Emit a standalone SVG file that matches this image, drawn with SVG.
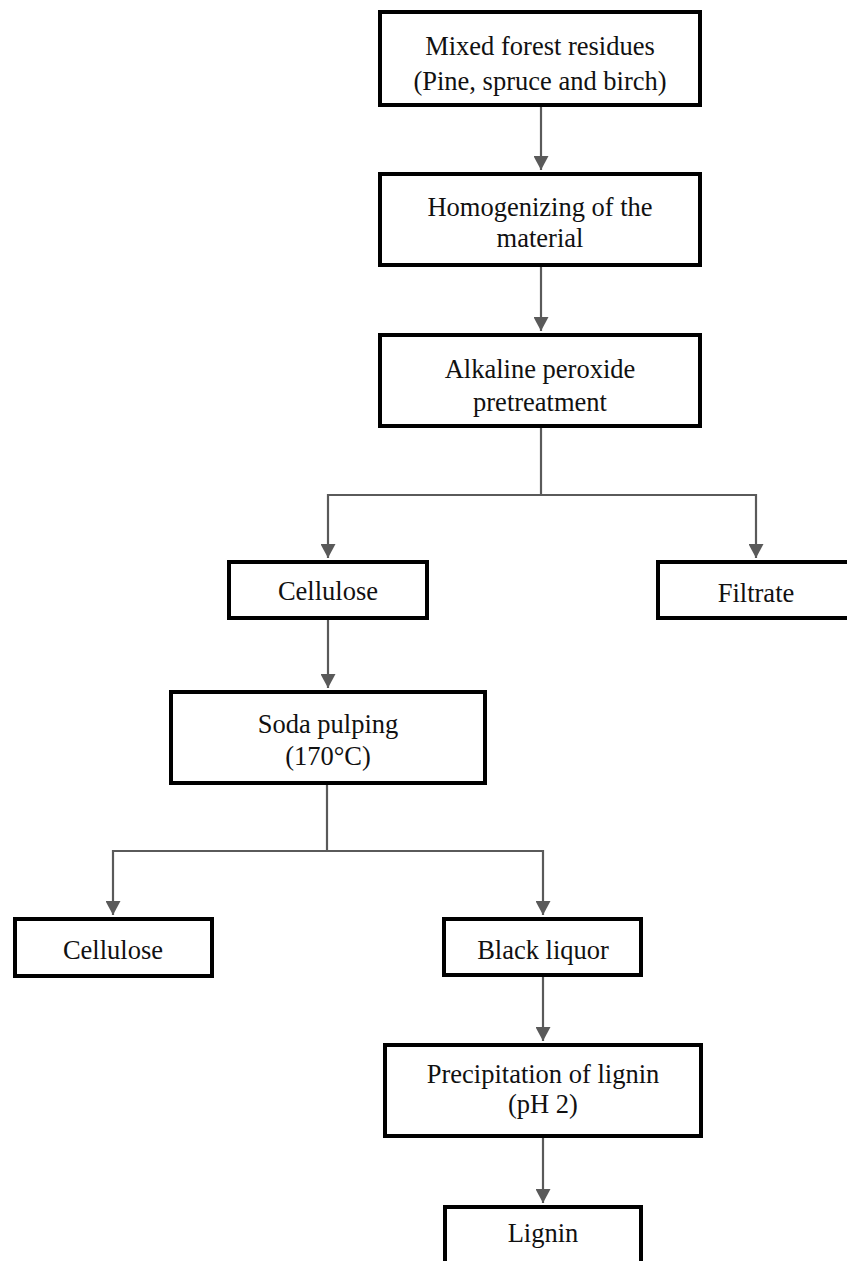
<svg xmlns="http://www.w3.org/2000/svg" width="847" height="1261" viewBox="0 0 847 1261">
<style>
.box{fill:#fff;stroke:#000;stroke-width:4}
.lbl{font-family:"Liberation Serif","Times New Roman",serif;font-size:26.5px;fill:#111;text-anchor:middle}
.con{fill:none;stroke:#5a5a5a;stroke-width:2.2}
</style>
<defs>
<marker id="arr" markerUnits="userSpaceOnUse" markerWidth="16" markerHeight="15" refX="8" refY="15" orient="auto-start-reverse" viewBox="0 0 16 15">
<path d="M0,0 L16,0 L8,15 Z" fill="#5a5a5a" transform="rotate(-90 8 7.5)"/>
</marker>
<marker id="ah" markerUnits="userSpaceOnUse" markerWidth="16" markerHeight="15" refX="15" refY="8" orient="auto" viewBox="0 0 16 16">
<path d="M0,0 L15,8 L0,16 Z" fill="#5a5a5a"/>
</marker>
</defs>
<rect width="847" height="1261" fill="#fff"/>
<g id="connectors">
<path class="con" d="M541,106 V170" marker-end="url(#ah)"/>
<path class="con" d="M541,266 V331" marker-end="url(#ah)"/>
<path class="con" d="M541,428 V495"/>
<path class="con" d="M328,495 H756"/>
<path class="con" d="M328,494 V558" marker-end="url(#ah)"/>
<path class="con" d="M756,494 V558" marker-end="url(#ah)"/>
<path class="con" d="M328,620 V688" marker-end="url(#ah)"/>
<path class="con" d="M327,785 V851"/>
<path class="con" d="M113,851 H543"/>
<path class="con" d="M113,850 V915" marker-end="url(#ah)"/>
<path class="con" d="M543,850 V915" marker-end="url(#ah)"/>
<path class="con" d="M543,977 V1041" marker-end="url(#ah)"/>
<path class="con" d="M543,1138 V1203" marker-end="url(#ah)"/>
</g>
<g id="n1"><rect class="box" x="380" y="12" width="320" height="93"/>
<text class="lbl" x="540" y="55">Mixed forest residues</text><text class="lbl" x="540" y="90">(Pine, spruce and birch)</text></g>
<g id="n2"><rect class="box" x="380" y="174" width="320" height="91"/>
<text class="lbl" x="540" y="216">Homogenizing of the</text><text class="lbl" x="540" y="247">material</text></g>
<g id="n3"><rect class="box" x="380" y="335" width="320" height="91"/>
<text class="lbl" x="540" y="378">Alkaline peroxide</text><text class="lbl" x="540" y="411">pretreatment</text></g>
<g id="n4"><rect class="box" x="229" y="562" width="198" height="56"/>
<text class="lbl" x="328" y="600">Cellulose</text></g>
<g id="n5"><rect class="box" x="658" y="562" width="200" height="56"/>
<text class="lbl" x="756" y="602">Filtrate</text></g>
<g id="n6"><rect class="box" x="171" y="692" width="314" height="91"/>
<text class="lbl" x="328" y="733">Soda pulping</text><text class="lbl" x="328" y="765">(170°C)</text></g>
<g id="n7"><rect class="box" x="15" y="919" width="197" height="57"/>
<text class="lbl" x="113" y="959">Cellulose</text></g>
<g id="n8"><rect class="box" x="444" y="919" width="197" height="56"/>
<text class="lbl" x="543" y="959">Black liquor</text></g>
<g id="n9"><rect class="box" x="385" y="1045" width="316" height="91"/>
<text class="lbl" x="543" y="1083">Precipitation of lignin</text><text class="lbl" x="543" y="1113">(pH 2)</text></g>
<g id="n10"><rect class="box" x="445" y="1207" width="196" height="80"/>
<text class="lbl" x="543" y="1242">Lignin</text></g>
</svg>
